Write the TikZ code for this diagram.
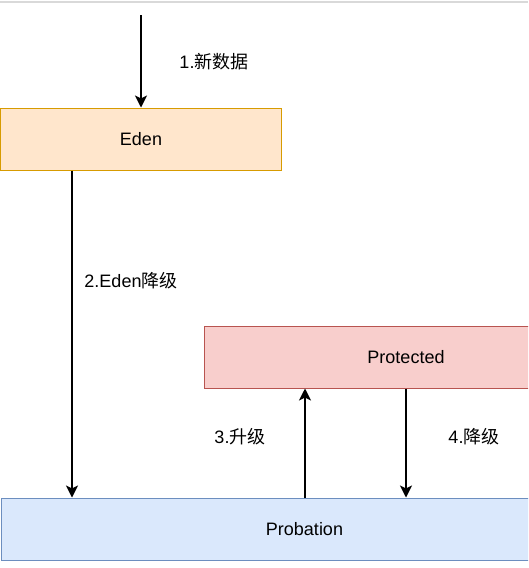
\documentclass[tikz,border=0pt]{standalone}
\usepackage{fontspec}
\setmainfont{Liberation Sans}
\newfontfamily\cjk{Noto Sans CJK SC}
\usetikzlibrary{arrows.meta}
\usetikzlibrary{calc}
\usetikzlibrary{positioning}

\definecolor{edenfill}{HTML}{FFE6CC}
\definecolor{edenline}{HTML}{D79B00}
\definecolor{protfill}{HTML}{F8CECC}
\definecolor{protline}{HTML}{B85450}
\definecolor{probfill}{HTML}{DAE8FC}
\definecolor{probline}{HTML}{6C8EBF}

\tikzset{
    area/.style={draw, line width=1pt, minimum height=62pt, inner sep=0pt, font=\fontsize{18}{20}\selectfont},
    flow/.style={-{Stealth[length=12pt, width=12pt, inset=3pt]}, line width=1.3pt},
    lbl/.style={font=\fontsize{18}{20}\selectfont, inner sep=0pt}
}

\begin{document}
\begin{tikzpicture}[x=1pt, y=-1pt]
    \useasboundingbox (0,0) rectangle (528,568);
    \clip (0,0) rectangle (528,568);

    \coordinate (top) at (141,15);
    \coordinate (downx) at (72,0);
    \coordinate (upx) at (305,0);
    \coordinate (backx) at (406,0);

    \draw[black!15, line width=1.5pt] (0,2) -- (528,2);

    \node[area, fill=edenfill, draw=edenline, minimum width=281pt] (eden) at (141,139) {Eden};
    \node[area, fill=protfill, draw=protline, minimum width=404pt] (protected) at (406,357) {Protected};
    \node[area, fill=probfill, draw=probline, minimum width=607pt] (probation) at (304.5,529) {Probation};

    \draw[flow] (top) -- (eden.north);
    \node[lbl] (newdata) at (214,62) {1.{\cjk 新数据}};

    \draw[flow] (eden.south -| downx) -- (probation.north -| downx);
    \node[lbl] (edendown) at (131,281) {2.Eden{\cjk 降级}};

    \draw[flow] (probation.north -| upx) -- (protected.south -| upx);
    \node[lbl] (promote) at (240,437) {3.{\cjk 升级}};

    \draw[flow] (protected.south -| backx) -- (probation.north -| backx);
    \node[lbl] (demote) at (474,437) {4.{\cjk 降级}};
\end{tikzpicture}
\end{document}
